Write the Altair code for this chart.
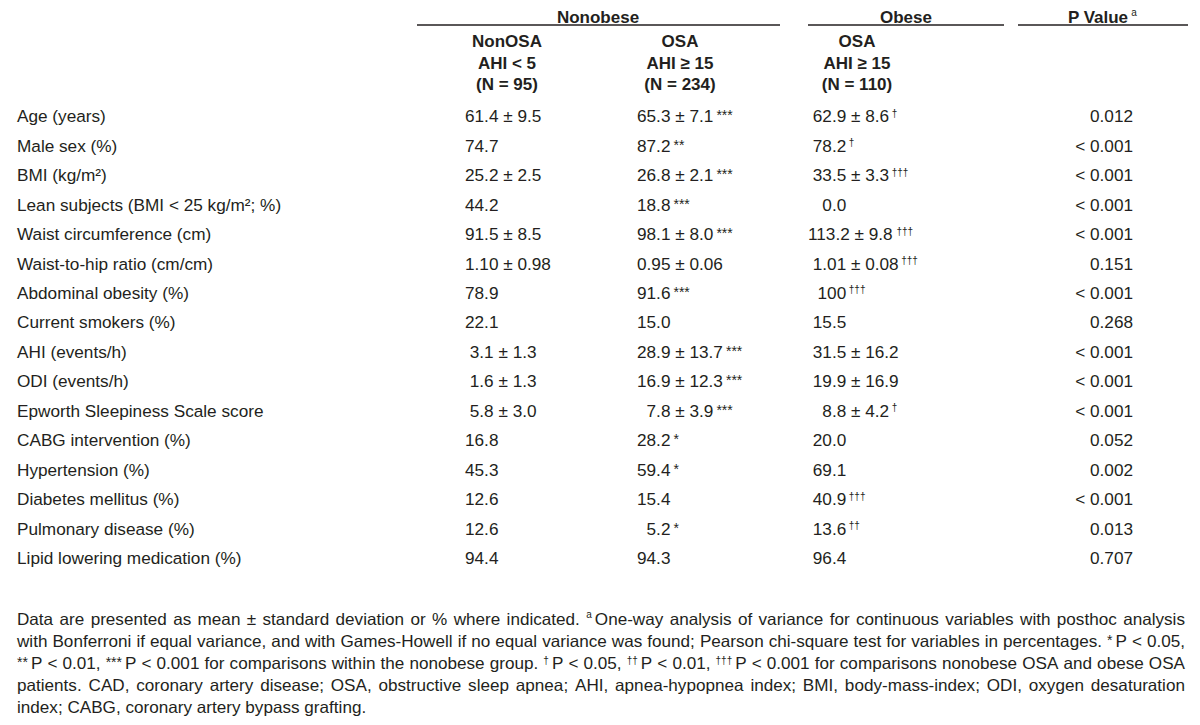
import re
import altair as alt
import pandas as pd

# ---------------- table content ----------------
row_labels = [
    "Age (years)", "Male sex (%)", "BMI (kg/m²)", "Lean subjects (BMI < 25 kg/m²; %)",
    "Waist circumference (cm)", "Waist-to-hip ratio (cm/cm)", "Abdominal obesity (%)",
    "Current smokers (%)", "AHI (events/h)", "ODI (events/h)", "Epworth Sleepiness Scale score",
    "CABG intervention (%)", "Hypertension (%)", "Diabetes mellitus (%)", "Pulmonary disease (%)",
    "Lipid lowering medication (%)",
]
nonosa_values = [
    "61.4 ± 9.5", "74.7", "25.2 ± 2.5", "44.2", "91.5 ± 8.5", "1.10 ± 0.98", "78.9", "22.1",
    " 3.1 ± 1.3", " 1.6 ± 1.3", " 5.8 ± 3.0", "16.8", "45.3", "12.6", "12.6", "94.4",
]
osa_values = [
    "65.3 ± 7.1", "87.2", "26.8 ± 2.1", "18.8", "98.1 ± 8.0", "0.95 ± 0.06", "91.6", "15.0",
    "28.9 ± 13.7", "16.9 ± 12.3", "  7.8 ± 3.9", "28.2", "59.4", "15.4", "  5.2", "94.3",
]
osa_marks = ["***", "**", "***", "***", "***", "", "***", "", "***", "***", "***", "*", "*", "", "*", ""]
obese_values = [
    " 62.9 ± 8.6", " 78.2", " 33.5 ± 3.3", "   0.0", "113.2 ± 9.8", " 1.01 ± 0.08", "  100", " 15.5",
    " 31.5 ± 16.2", " 19.9 ± 16.9", "   8.8 ± 4.2", " 20.0", " 69.1", " 40.9", " 13.6", " 96.4",
]
obese_marks = ["†", "†", "†††", "", "†††", "†††", "†††", "", "", "", "†", "", "", "†††", "††", ""]
p_values = [
    "0.012", "< 0.001", "< 0.001", "< 0.001", "< 0.001", "0.151", "< 0.001", "0.268",
    "< 0.001", "< 0.001", "< 0.001", "0.052", "0.002", "< 0.001", "0.013", "0.707",
]
group_headers = ["Nonobese", "Obese", "P Value"]
group_header_marks = ["", "", "a"]
column_headers = [
    ["NonOSA", "AHI < 5", "(N = 95)"],
    ["OSA", "AHI ≥ 15", "(N = 234)"],
    ["OSA", "AHI ≥ 15", "(N = 110)"],
]
footnote_lines = [
    "Data are presented as mean ± standard deviation or % where indicated. {a}One-way analysis of variance for continuous variables with posthoc analysis",
    "with Bonferroni if equal variance, and with Games-Howell if no equal variance was found; Pearson chi-square test for variables in percentages. {*}P < 0.05,",
    "{**}P < 0.01, {***}P < 0.001 for comparisons within the nonobese group. {†}P < 0.05, {††}P < 0.01, {†††}P < 0.001 for comparisons nonobese OSA and obese OSA",
    "patients. CAD, coronary artery disease; OSA, obstructive sleep apnea; AHI, apnea-hypopnea index; BMI, body-mass-index; ODI, oxygen desaturation",
    "index; CABG, coronary artery bypass grafting.",
]
footnote_justified = [True, True, True, True, False]

# ---------------- layout / style ----------------
FONT = "Liberation Sans"
INK = "#231f20"
BODY = 17.2
HEAD = 17.0
X_LABEL = 17
X_COLS = [465, 637, 808]
X_P_RIGHT = 1133
ROW_Y0 = 116
ROW_STEP = 29.47
GROUP_Y = 16.5
GROUP_CENTERS = [598, 906, 1102]
GROUP_SPANS = [(417, 780), (808, 1004), (1018, 1188)]
RULE_Y = 25
COLHEAD_X = [507, 680, 857]
COLHEAD_Y = [41, 62.5, 84]
FOOT_X0, FOOT_X1 = 17, 1185
FOOT_Y0, FOOT_STEP = 619, 22
SUP = {"*": (14.0, 2.0, 3.0), "†": (10.0, 5.5, 2.5), "a": (10.0, 7.0, 2.5)}  # size, raise, gap
FOOT_SUP_GAP = 3.0
CAP = 0.716

# Arial / Liberation Sans advance widths (1/1000 em)
W = {' ': 278, '%': 889, '(': 333, ')': 333, '*': 389, ',': 278, '-': 333, '.': 278, '/': 278,
     ':': 278, ';': 278, '<': 584, '=': 584, '>': 584,
     'A': 667, 'B': 667, 'C': 722, 'D': 722, 'E': 667, 'F': 611, 'G': 778, 'H': 722, 'I': 278,
     'J': 500, 'K': 667, 'L': 556, 'M': 833, 'N': 722, 'O': 778, 'P': 667, 'Q': 778, 'R': 722,
     'S': 667, 'T': 611, 'U': 722, 'V': 667, 'W': 944, 'X': 667, 'Y': 667, 'Z': 611,
     'a': 556, 'b': 556, 'c': 500, 'd': 556, 'e': 556, 'f': 278, 'g': 556, 'h': 556, 'i': 222,
     'j': 222, 'k': 500, 'l': 222, 'm': 833, 'n': 556, 'o': 556, 'p': 556, 'q': 556, 'r': 333,
     's': 500, 't': 278, 'u': 556, 'v': 500, 'w': 722, 'x': 500, 'y': 500, 'z': 500,
     '±': 549, '²': 333, '†': 556, '≥': 549}
WB = {' ': 278, 'P': 667, 'V': 667, 'a': 556, 'l': 278, 'u': 611, 'e': 556}


def tw(s, size, table=W):
    return sum(table.get(c, 556) for c in s) * size / 1000.0


def sup_style(mark):
    return SUP[mark[0]]


regular_left, regular_right, bold_center = [], [], []


def add_cell(x, y_center, text, mark, size=BODY):
    base = y_center + CAP * size / 2
    stripped = text.lstrip(" ")
    x0 = x + tw(text[: len(text) - len(stripped)], size)
    regular_left.append(dict(x=x0, y=base, text=stripped, size=size))
    if mark:
        s, r, g = sup_style(mark)
        regular_left.append(dict(x=x0 + tw(stripped, size) + g, y=base - r, text=mark, size=s))


# body rows
for i, lab in enumerate(row_labels):
    yc = ROW_Y0 + i * ROW_STEP
    add_cell(X_LABEL, yc, lab, "")
    add_cell(X_COLS[0], yc, nonosa_values[i], "")
    add_cell(X_COLS[1], yc, osa_values[i], osa_marks[i])
    add_cell(X_COLS[2], yc, obese_values[i], obese_marks[i])
    regular_right.append(dict(x=X_P_RIGHT, y=yc + CAP * BODY / 2, text=p_values[i], size=BODY))

# group headers
for txt, mk, cx in zip(group_headers, group_header_marks, GROUP_CENTERS):
    base = GROUP_Y + CAP * HEAD / 2
    if mk:
        s, r, g = sup_style(mk)
        wmain = tw(txt, HEAD, WB)
        total = wmain + g + tw(mk, s)
        left = cx - total / 2
        bold_center.append(dict(x=left + wmain / 2, y=base, text=txt, size=HEAD))
        regular_left.append(dict(x=left + wmain + g, y=base - r, text=mk, size=s))
    else:
        bold_center.append(dict(x=cx, y=base, text=txt, size=HEAD))

# column headers
for cx, lines in zip(COLHEAD_X, column_headers):
    for yc, txt in zip(COLHEAD_Y, lines):
        bold_center.append(dict(x=cx, y=yc + CAP * HEAD / 2, text=txt, size=HEAD))

# footnotes (justified)
tok_re = re.compile(r"^\{([^}]*)\}(.*)$")


def tokens(line):
    out = []
    for t in line.split(" "):
        m = tok_re.match(t)
        out.append((m.group(1), m.group(2)) if m else ("", t))
    return out


def line_metrics(line):
    toks = tokens(line)
    a_units = sum(sum(W.get(c, 556) for c in w) for _, w in toks) + (len(toks) - 1) * W[' ']
    b_px = 0.0
    for mk, _ in toks:
        if mk:
            s, r, g = sup_style(mk)
            b_px += tw(mk, s) + FOOT_SUP_GAP
    return toks, a_units, b_px


fits = []
for line, just in zip(footnote_lines, footnote_justified):
    _, a_units, b_px = line_metrics(line)
    fits.append((FOOT_X1 - FOOT_X0 - b_px) * 1000.0 / a_units)
FOOT = min(BODY, min(fits) * 0.995)

for k, (line, just) in enumerate(zip(footnote_lines, footnote_justified)):
    toks, a_units, b_px = line_metrics(line)
    natural = a_units * FOOT / 1000.0 + b_px
    gaps = len(toks) - 1
    space = W[' '] * FOOT / 1000.0
    if just and gaps > 0:
        space += (FOOT_X1 - FOOT_X0 - natural) / gaps
    base = FOOT_Y0 + k * FOOT_STEP + CAP * FOOT / 2
    x = FOOT_X0
    for mk, word in toks:
        if mk:
            s, r, g = sup_style(mk)
            regular_left.append(dict(x=x, y=base - r, text=mk, size=s))
            x += tw(mk, s) + FOOT_SUP_GAP
        regular_left.append(dict(x=x, y=base, text=word, size=FOOT))
        x += tw(word, FOOT) + space

rules = pd.DataFrame([dict(x=a, x2=b, y=RULE_Y) for a, b in GROUP_SPANS])

# ---------------- chart ----------------
XS = alt.Scale(domain=[8, 1192], nice=False, zero=False)
YS = alt.Scale(domain=[8, 717], nice=False, zero=False, reverse=True)


def text_layer(rows, align, weight):
    return alt.Chart(pd.DataFrame(rows)).mark_text(
        align=align, baseline="alphabetic", font=FONT, fontWeight=weight, color=INK
    ).encode(
        x=alt.X("x:Q", scale=XS, axis=None),
        y=alt.Y("y:Q", scale=YS, axis=None),
        text=alt.Text("text:N"),
        size=alt.Size("size:Q", scale=None, legend=None),
    )


rule_layer = alt.Chart(rules).mark_rule(color=INK, strokeWidth=1.3).encode(
    x=alt.X("x:Q", scale=XS, axis=None),
    x2="x2:Q",
    y=alt.Y("y:Q", scale=YS, axis=None),
)

chart = alt.layer(
    rule_layer,
    text_layer(regular_left, "left", "normal"),
    text_layer(regular_right, "right", "normal"),
    text_layer(bold_center, "center", "bold"),
).properties(
    width=1184, height=709, padding=0,
    autosize=alt.AutoSizeParams(type="none"),
    background="white",
).configure_view(stroke=None)

chart.save("out.html", embed_options={"renderer": "svg", "actions": False})
